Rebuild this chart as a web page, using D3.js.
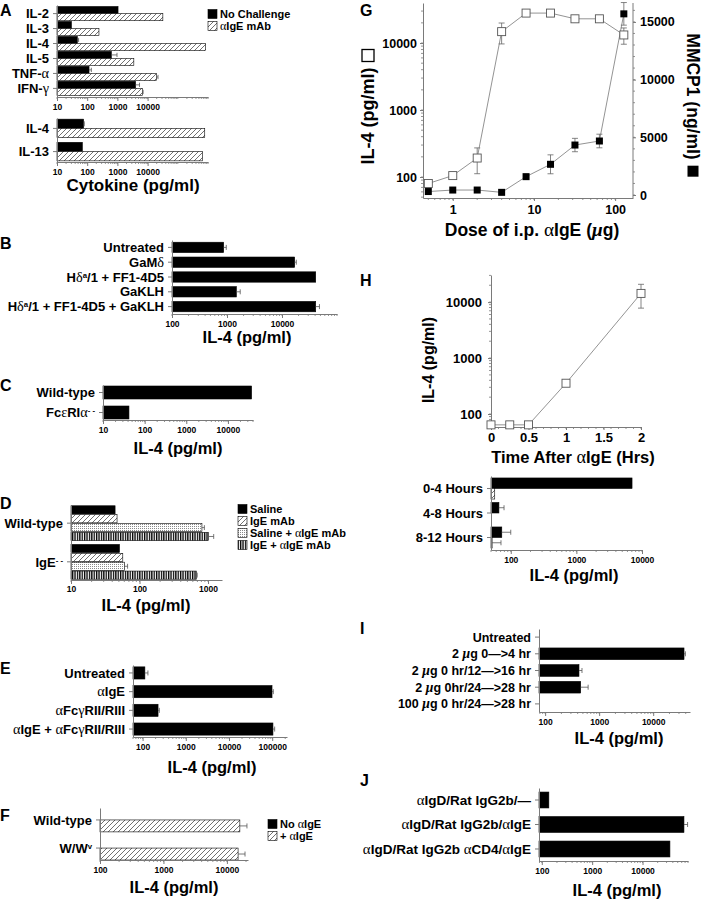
<!DOCTYPE html>
<html><head><meta charset="utf-8">
<script src="https://cdn.jsdelivr.net/npm/d3@7"></script>
<style>
body{margin:0;background:#fff}
text{font-family:"Liberation Sans",Arial,Helvetica,sans-serif;font-weight:bold;fill:#000}
</style>
</head><body><script>
// ---------------- DATA ----------------
// Panel A (top)
const aCats=["IL-2","IL-3","IL-4","IL-5","TNF-α","IFN-γ"];
const aNoChallenge=[1050,30,47,630,115,4000];
const aNoChallengeErr=[0,0,5,340,22,1400];
const aAntiIgE=[32000,245,830000,3500,19500,6700];
const aAntiIgEErr=[0,0,0,0,2600,400];
// Panel A (bottom)
const a2Cats=["IL-4","IL-13"];
const a2NoChallenge=[76,69];
const a2NoChallengeErr=[4,0];
const a2AntiIgE=[780000,650000];
const aTicks=[10,100,1000,10000];
const aLegend=["No Challenge","αIgE mAb"];
// Panel B
const bCats=["Untreated","GaMδ","Hδ^a^/1 + FF1-4D5","GaKLH","Hδ^a^/1 + FF1-4D5 + GaKLH"];
const bIL4=[870,17000,41000,1480,41000];
const bErr=[100,1200,0,260,7000];
const bTicks=[100,1000,10000];
// Panel C
const cCats=["Wild-type","FcεRIα^- -^"];
const cIL4=[37000,42];
const cTicks=[10,100,1000,10000];
// Panel D
const dCats=["Wild-type","IgE^- -^"];
const dSaline=[44,51];
const dIgEmAb=[47,57];
const dSalineAnti=[815,60];
const dSalineAntiErr=[70,7];
const dIgEAnti=[1020,675];
const dIgEAntiErr=[190,20];
const dTicks=[10,100,1000];
const dLegend=["Saline","IgE mAb","Saline + αIgE mAb","IgE + αIgE mAb"];
// Panel E
const eCats=["Untreated","αIgE","αFcγRII/RIII","αIgE + αFcγRII/RIII"];
const eIL4=[113,99000,228,104000];
const eErr=[20,7000,16,10000];
const eTicks=[100,1000,10000,100000];
// Panel F
const fCats=["Wild-type","W/W^v^"];
const fNoAnti=[null,null];
const fAnti=[16000,15000];
const fAntiErr=[4700,4300];
const fTicks=[100,1000,10000];
const fLegend=["No αIgE","+ αIgE"];
// Panel G
const gDose=[0.5,1,2,4,8,16,32,64,128];
const gIL4=[80,105,192,14800,28000,28000,23000,23000,13200];
const gIL4Err=[0,0,80,5100,2500,2000,0,0,3600];
const gMMCP1=[300,430,430,230,1590,2660,4330,4680,15700];
const gMMCP1Err=[0,0,0,0,0,820,580,590,980];
const gXTicks=[1,10,100];
const gYLTicks=[100,1000,10000];
const gYRTicks=[0,5000,10000,15000];
// Panel H (time course)
const hTime=[0,0.25,0.5,1,2];
const hIL4=[64,64,64,355,14300];
const hErr=[0,0,0,0,6500];
const hXTicks=[0,0.5,1,1.5,2];
const hYTicks=[100,1000,10000];
// Panel H (bars)
const hbCats=["0-4 Hours","4-8 Hours","8-12 Hours"];
const hbBlack=[7050,66,73];
const hbBlackErr=[0,13,27];
const hbHatch=[57,null,52];
const hbHatchErr=[0,0,19];
const hbTicks=[100,1000,10000];
// Panel I
const iCats=["Untreated","2 μg 0—>4 hr","2 μg 0 hr/12—>16 hr","2 μg 0hr/24—>28 hr","100 μg 0 hr/24—>28 hr"];
const iIL4=[null,37200,423,455,null];
const iErr=[0,2200,58,170,0];
const iTicks=[100,1000,10000];
// Panel J
const jCats=["αIgD/Rat IgG2b/—","αIgD/Rat IgG2b/αIgE","αIgD/Rat IgG2b αCD4/αIgE"];
const jIL4=[138,66500,35000];
const jErr=[0,12000,0];
const jTicks=[100,1000,10000];

// ---------------- SETUP ----------------
const svg=d3.select("body").append("svg").attr("width",705).attr("height",900);
const defs=svg.append("defs");
const ph=defs.append("pattern").attr("id","hatch").attr("patternUnits","userSpaceOnUse").attr("width",5).attr("height",5);
ph.append("rect").attr("width",5).attr("height",5).attr("fill","#fff");
ph.append("path").attr("d","M0,5 L5,0 M-1,1 L1,-1 M4,6 L6,4").attr("stroke","#333").attr("stroke-width",0.7);
const pd=defs.append("pattern").attr("id","dots").attr("patternUnits","userSpaceOnUse").attr("width",2).attr("height",2);
pd.append("rect").attr("width",2).attr("height",2).attr("fill","#fff");
pd.append("rect").attr("width",1).attr("height",1).attr("fill","#8a8a8a");
const pv=defs.append("pattern").attr("id","vstripe").attr("patternUnits","userSpaceOnUse").attr("width",2.4).attr("height",4);
pv.append("rect").attr("width",2.4).attr("height",4).attr("fill","#fff");
pv.append("rect").attr("width",1.3).attr("height",4).attr("fill","#000");

const AX="#7a7a7a";
function rich(t,str){
  const parts=str.split(/(\^[^^]*\^)/);
  let pend=0;
  parts.forEach(p=>{
    if(!p) return;
    if(p[0]==="^"){
      t.append("tspan").attr("dy",-4).attr("font-size","0.6em").text(p.slice(1,-1));
      pend=4;
    } else {
      p.split(/([α-ω])/).forEach(s=>{
        if(!s) return;
        const ts=t.append("tspan");
        if(pend){ts.attr("dy",pend);pend=0;}
        if(/^[α-ω]$/.test(s)){
          ts.attr("font-family","'Liberation Serif','DejaVu Serif',serif").attr("font-weight",s==="μ"?"bold":"normal").attr("font-size","1.1em");
          if(s==="μ") ts.attr("font-style","italic");
        }
        ts.text(s);
      });
    }
  });
  return t;
}
function styleAxis(sel,fs){
  sel.attr("font-family",null).attr("font-size",fs||8.5);
  sel.select(".domain").attr("stroke",AX).attr("stroke-width",1);
  sel.selectAll(".tick line").attr("stroke",AX);
  sel.selectAll(".tick text").attr("fill","#000");
}
function logMinor(domain){
  const [lo,hi]=domain, v=[];
  for(let k=Math.floor(Math.log10(lo));k<=Math.ceil(Math.log10(hi));k++)
    for(let m=1;m<=9;m++){const x=m*Math.pow(10,k); if(x>=lo*0.999&&x<=hi*1.001) v.push(x);}
  return v;
}
function minorBottom(g,scale,y,vals,len){
  g.append("g").selectAll("line").data(vals).join("line")
   .attr("x1",d=>scale(d)).attr("x2",d=>scale(d)).attr("y1",y).attr("y2",y+len)
   .attr("stroke",AX).attr("stroke-width",0.8);
}
function minorSide(g,scale,x,vals,len){
  g.append("g").selectAll("line").data(vals).join("line")
   .attr("y1",d=>scale(d)).attr("y2",d=>scale(d)).attr("x1",x).attr("x2",x+len)
   .attr("stroke",AX).attr("stroke-width",0.8);
}
function letter(s,x,y){svg.append("text").attr("x",x).attr("y",y).attr("font-size",16).text(s);}
function title(s,x,y,fs){rich(svg.append("text").attr("x",x).attr("y",y).attr("text-anchor","middle").attr("font-size",fs||16.5),s);}
function legend(x,ys,items,fills,fs){
  const g=svg.append("g");
  g.selectAll("rect").data(items).join("rect").attr("x",x).attr("y",(d,i)=>ys[i]-4.5).attr("width",9).attr("height",9)
   .attr("fill",(d,i)=>fills[i]).attr("stroke","#000").attr("stroke-width",0.6);
  g.selectAll("text").data(items).join("text").attr("x",x+12).attr("y",(d,i)=>ys[i]).attr("dy","0.36em").attr("font-size",fs||11)
   .each(function(d){rich(d3.select(this),d);});
}
function hbar(o){
  const g=svg.append("g");
  const x=d3.scaleLog().domain(o.domain).range(o.xr);
  const y=d3.scaleBand().domain(o.cats).range(o.yr).paddingInner(o.pi).paddingOuter(o.po);
  const sub=d3.scaleBand().domain(d3.range(o.series.length)).range([0,y.bandwidth()]).paddingInner(o.spi||0);
  const items=[];
  o.series.forEach((s,si)=>o.cats.forEach((c,ci)=>{
    if(s.values[ci]!=null) items.push({c,si,v:s.values[ci],e:s.errs?s.errs[ci]:0,fill:s.fill});
  }));
  const x0=o.xr[0];
  const yc=d=>y(d.c)+sub(d.si)+sub.bandwidth()/2;
  g.append("g").selectAll("rect").data(items).join("rect")
   .attr("x",x0).attr("y",d=>y(d.c)+sub(d.si)).attr("width",d=>Math.max(0,x(d.v)-x0)).attr("height",sub.bandwidth())
   .attr("fill",d=>d.fill).attr("stroke","#000").attr("stroke-width",0.6);
  const eb=items.filter(d=>d.e>0);
  const ch=Math.min(2.5,sub.bandwidth()*0.3);
  g.append("g").selectAll("line").data(eb).join("line")
   .attr("x1",d=>x(d.v)).attr("x2",d=>x(d.v+d.e)).attr("y1",yc).attr("y2",yc).attr("stroke","#555").attr("stroke-width",0.8);
  g.append("g").selectAll("line").data(eb).join("line")
   .attr("x1",d=>x(d.v+d.e)).attr("x2",d=>x(d.v+d.e)).attr("y1",d=>yc(d)-ch).attr("y2",d=>yc(d)+ch).attr("stroke","#555").attr("stroke-width",0.8);
  const ay=o.ay||o.yr[1];
  const xa=g.append("g").attr("transform",`translate(0,${ay})`)
   .call(d3.axisBottom(x).tickValues(o.ticks).tickFormat(d3.format("d")).tickSize(4).tickSizeOuter(0).tickPadding(o.tp!=null?o.tp:3));
  styleAxis(xa,o.tfs);
  minorBottom(g,x,ay,logMinor(o.domain),2);
  const ya=g.append("g").attr("transform",`translate(${x0},0)`)
   .call(d3.axisLeft(y).tickSize(4).tickSizeOuter(0).tickFormat(""));
  styleAxis(ya);
  g.append("g").selectAll("text").data(o.cats).join("text")
   .attr("x",x0-8).attr("y",d=>y(d)+y.bandwidth()/2).attr("dy","0.36em").attr("text-anchor","end").attr("font-size",o.lfs||13)
   .each(function(d){rich(d3.select(this),d);});
}

// ---------------- PANEL A ----------------
letter("A",0,16);
hbar({cats:aCats,series:[{values:aNoChallenge,errs:aNoChallengeErr,fill:"#000"},{values:aAntiIgE,errs:aAntiIgEErr,fill:"url(#hatch)"}],
  domain:[10,1e6],xr:[57,208],yr:[5,97],pi:0.05,po:0.1,ticks:aTicks});
hbar({cats:a2Cats,series:[{values:a2NoChallenge,errs:a2NoChallengeErr,fill:"#000"},{values:a2AntiIgE,fill:"url(#hatch)"}],
  domain:[10,1e6],xr:[57,208],yr:[118,162],pi:0.2,po:0.05,ticks:aTicks});
legend(208,[14,26],aLegend,["#000","url(#hatch)"],11);
title("Cytokine (pg/ml)",133,191,17);

// ---------------- PANEL B ----------------
letter("B",0,249);
hbar({cats:bCats,series:[{values:bIL4,errs:bErr,fill:"#000"}],domain:[100,1e5],xr:[172,337],yr:[240,314],pi:0.3,po:0.15,ticks:bTicks});
title("IL-4 (pg/ml)",247,343);

// ---------------- PANEL C ----------------
letter("C",0,391);
hbar({cats:cCats,series:[{values:cIL4,fill:"#000"}],domain:[10,40000],xr:[103,253],yr:[385,420],pi:0.35,po:0.05,ticks:cTicks});
title("IL-4 (pg/ml)",178,454);

// ---------------- PANEL D ----------------
letter("D",0,509);
hbar({cats:dCats,series:[{values:dSaline,fill:"#000"},{values:dIgEmAb,fill:"url(#hatch)"},{values:dSalineAnti,errs:dSalineAntiErr,fill:"url(#dots)"},{values:dIgEAnti,errs:dIgEAntiErr,fill:"url(#vstripe)"}],
  domain:[10,1600],xr:[71,222],yr:[505,580],pi:0.1,po:0.02,spi:0.08,ticks:dTicks,tp:2});
legend(238,[509,521,533,545],dLegend,["#000","url(#hatch)","url(#dots)","url(#vstripe)"],11);
title("IL-4 (pg/ml)",146,611);

// ---------------- PANEL E ----------------
letter("E",0,674);
hbar({cats:eCats,series:[{values:eIL4,errs:eErr,fill:"#000"}],domain:[60,2.2e5],xr:[133,287],yr:[665,737],pi:0.35,po:0.1,ticks:eTicks});
title("IL-4 (pg/ml)",212,773);

// ---------------- PANEL F ----------------
letter("F",0,821);
hbar({cats:fCats,series:[{values:fNoAnti,fill:"#000"},{values:fAnti,errs:fAntiErr,fill:"url(#hatch)"}],
  domain:[100,21500],xr:[100,248],yr:[808,860],pi:0.15,po:0,ticks:fTicks});
legend(268,[824,836],fLegend,["#000","url(#hatch)"],11);
title("IL-4 (pg/ml)",174,893);

// ---------------- PANEL G ----------------
letter("G",360,16);
(function(){
  const g=svg.append("g");
  const x=d3.scaleLog().domain([0.43,166]).range([423,633]);
  const yL=d3.scaleLog().domain([48.6,39600]).range([198,3]);
  const yR=d3.scaleLinear().domain([0,16900]).range([195,0]);
  const xa=g.append("g").attr("transform","translate(0,198)").call(d3.axisBottom(x).tickValues(gXTicks).tickFormat(d3.format("d")).tickSize(3).tickSizeOuter(0).tickPadding(4));
  styleAxis(xa,12.5); minorBottom(g,x,198,logMinor(x.domain()),2);
  const yla=g.append("g").attr("transform","translate(423,0)").call(d3.axisLeft(yL).tickValues(gYLTicks).tickFormat(d3.format("d")).tickSize(3).tickSizeOuter(0).tickPadding(3));
  styleAxis(yla,12.5); minorSide(g,yL,423,logMinor(yL.domain()),-2);
  const yra=g.append("g").attr("transform","translate(633,0)").call(d3.axisRight(yR).tickValues(gYRTicks).tickFormat(d3.format("d")).tickSize(3).tickSizeOuter(0).tickPadding(4));
  styleAxis(yra,12.5); yra.select(".domain").attr("d","M0,198V3");
  minorSide(g,yR,633,d3.range(0,16001,1000),2);
  const ptsL=gDose.map((d,i)=>({d,v:gIL4[i],e:gIL4Err[i]}));
  const ptsR=gDose.map((d,i)=>({d,v:gMMCP1[i],e:gMMCP1Err[i]}));
  g.append("path").datum(ptsL).attr("d",d3.line().x(p=>x(p.d)).y(p=>yL(p.v))).attr("fill","none").attr("stroke","#777").attr("stroke-width",0.8);
  g.append("path").datum(ptsR).attr("d",d3.line().x(p=>x(p.d)).y(p=>yR(p.v))).attr("fill","none").attr("stroke","#777").attr("stroke-width",0.8);
  function errs(pts,ys){
    const e=pts.filter(p=>p.e>0);
    g.append("g").selectAll("path").data(e).join("path")
     .attr("d",p=>{const cx=x(p.d),a=ys(p.v+p.e),b=ys(Math.max(p.v-p.e,ys.domain()[0]));return `M${cx},${a}V${b}M${cx-3},${a}H${cx+3}M${cx-3},${b}H${cx+3}`;})
     .attr("stroke","#666").attr("stroke-width",0.8).attr("fill","none");
  }
  errs(ptsL,yL); errs(ptsR,yR);
  g.append("g").selectAll("rect").data(ptsL).join("rect").attr("x",p=>x(p.d)-4).attr("y",p=>yL(p.v)-4).attr("width",8).attr("height",8)
   .attr("fill","#fff").attr("stroke","#555").attr("stroke-width",0.9);
  g.append("g").selectAll("rect").data(ptsR).join("rect").attr("x",p=>x(p.d)-3.5).attr("y",p=>yR(p.v)-3.5).attr("width",7).attr("height",7)
   .attr("fill","#000");
  // left title with open square
  const lt=svg.append("g").attr("transform","translate(368,107) rotate(-90)");
  const t1=lt.append("text").attr("y",6).attr("font-size",18).text("IL-4 (pg/ml)");
  const l1=t1.node().getComputedTextLength(), tot1=l1+6+12;
  t1.attr("x",-tot1/2);
  lt.append("rect").attr("x",-tot1/2+l1+6).attr("y",-6).attr("width",12).attr("height",12).attr("fill","#fff").attr("stroke","#000").attr("stroke-width",1.3);
  // right title with filled square
  const rt=svg.append("g").attr("transform","translate(693,105) rotate(90)");
  const t2=rt.append("text").attr("y",6).attr("font-size",17.5).text("MMCP1 (ng/ml)");
  const l2=t2.node().getComputedTextLength(), tot2=l2+6+11;
  t2.attr("x",-tot2/2);
  rt.append("rect").attr("x",-tot2/2+l2+6).attr("y",-5.5).attr("width",11).attr("height",11).attr("fill","#000");
})();
title("Dose of i.p. αIgE (μg)",532,236,17.5);

// ---------------- PANEL H ----------------
letter("H",360,286);
(function(){
  const g=svg.append("g");
  const x=d3.scaleLinear().domain([0,2]).range([491,641]);
  const y=d3.scaleLog().domain([58.6,30500]).range([427,275]);
  const xa=g.append("g").attr("transform","translate(0,427)").call(d3.axisBottom(x).tickValues(hXTicks).tickFormat(d=>String(d)).tickSize(3).tickSizeOuter(0).tickPadding(3));
  styleAxis(xa,13); minorBottom(g,x,427,d3.range(0,2.001,0.1),2);
  const ya=g.append("g").attr("transform","translate(491,0)").call(d3.axisLeft(y).tickValues(hYTicks).tickFormat(d3.format("d")).tickSize(3).tickSizeOuter(0).tickPadding(6));
  styleAxis(ya,13); minorSide(g,y,491,logMinor(y.domain()),-2);
  const pts=hTime.map((t,i)=>({t,v:hIL4[i],e:hErr[i]}));
  g.append("path").datum(pts).attr("d",d3.line().x(p=>x(p.t)).y(p=>y(p.v))).attr("fill","none").attr("stroke","#777").attr("stroke-width",0.8);
  g.append("g").selectAll("path").data(pts.filter(p=>p.e>0)).join("path")
   .attr("d",p=>{const cx=x(p.t),a=y(p.v+p.e),b=y(p.v-p.e);return `M${cx},${a}V${b}M${cx-3},${a}H${cx+3}M${cx-3},${b}H${cx+3}`;})
   .attr("stroke","#666").attr("stroke-width",0.8).attr("fill","none");
  g.append("g").selectAll("rect").data(pts).join("rect").attr("x",p=>x(p.t)-4).attr("y",p=>y(p.v)-4).attr("width",8).attr("height",8)
   .attr("fill","#fff").attr("stroke","#555").attr("stroke-width",0.9);
  rich(svg.append("text").attr("transform","translate(434,360) rotate(-90)").attr("text-anchor","middle").attr("font-size",16),"IL-4 (pg/ml)");
})();
title("Time After αIgE (Hrs)",573,463,16.5);
hbar({cats:hbCats,series:[{values:hbBlack,errs:hbBlackErr,fill:"#000"},{values:hbHatch,errs:hbHatchErr,fill:"url(#hatch)"}],
  domain:[50,10000],xr:[491,642],yr:[476,550],pi:0.14,po:0.08,ticks:hbTicks});
title("IL-4 (pg/ml)",574,581);

// ---------------- PANEL I ----------------
letter("I",360,634);
hbar({cats:iCats,series:[{values:iIL4,errs:iErr,fill:"#000"}],domain:[77,48000],xr:[539,690],yr:[629,712],pi:0.3,po:0.135,ticks:iTicks,lfs:12.5});
title("IL-4 (pg/ml)",619,744);

// ---------------- PANEL J ----------------
letter("J",360,786);
hbar({cats:jCats,series:[{values:jIL4,errs:jErr,fill:"#000"}],domain:[88,80000],xr:[539,688],yr:[788,861],pi:0.35,po:0.165,ticks:jTicks,lfs:13.5});
title("IL-4 (pg/ml)",617,896);
</script></body></html>
